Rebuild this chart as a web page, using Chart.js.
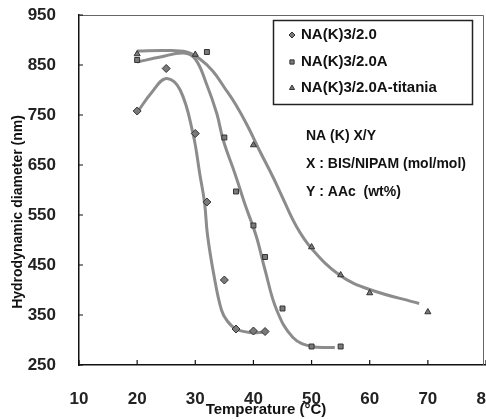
<!DOCTYPE html>
<html>
<head>
<meta charset="utf-8">
<script src="https://cdn.jsdelivr.net/npm/chart.js@4.4.1/dist/chart.umd.min.js"></script>
<style>
  html, body { margin: 0; padding: 0; background: #fff; overflow: hidden; }
  #wrap { width: 510px; height: 419px; }
</style>
</head>
<body>
<div id="wrap"><canvas id="chart" width="510" height="419"></canvas></div>
<script>
// measured points (temperature in C, diameter in nm)
const tempA = [20, 25, 30, 32, 35, 37, 40, 42];
const diamA = [758, 843, 713, 576, 420, 322, 318, 317];
const tempB = [20, 32, 35, 37, 40, 42, 45, 50, 55];
const diamB = [860, 876, 705, 597, 529, 466, 363, 287, 287];
const tempC = [20, 30, 40, 50, 55, 60, 70];
const diamC = [872, 871, 690, 486, 430, 394, 356];

// hand drawn trend curves
const fitTempA = [20, 22.5, 25, 27.4, 29.6, 30.8, 31.6, 32.1, 33.2, 34.5, 35.5, 37, 39.4, 42];
const fitDiamA = [755, 795, 823, 800, 713, 630, 574, 510, 430, 360, 338, 322, 315, 316];
const fitTempB = [20, 24, 28, 30, 31.9, 33.7, 34.8, 36.9, 38.5, 40.5, 42, 44, 46.8, 50, 54];
const fitDiamB = [856, 866, 874, 862, 813, 753, 700, 630, 573, 507, 440, 360, 305, 287, 285];
const fitTempC = [20, 25, 28.5, 30.8, 33, 35, 37, 39, 41, 43.4, 45, 47.4, 50, 54.8, 60, 68.5];
const fitDiamC = [878, 879, 876, 862, 838, 805, 770, 728, 680, 625, 585, 527, 483, 430, 401, 373];

const seriesNames = ['NA(K)3/2.0', 'NA(K)3/2.0A', 'NA(K)3/2.0A-titania'];
const pointStyles = ['rectRot', 'rect', 'triangle'];
const xTicks = [10, 20, 30, 40, 50, 60, 70, 80];
const yTicks = [250, 350, 450, 550, 650, 750, 850, 950];
const noteLines = ['NA (K) X/Y', 'X : BIS/NIPAM (mol/mol)', 'Y : AAc  (wt%)'];

const pairs = (xs, ys) => xs.map((x, i) => ({ x: x, y: ys[i] }));

const markerDs = (xs, ys, i) => ({
  type: 'scatter',
  label: seriesNames[i],
  data: pairs(xs, ys),
  pointStyle: pointStyles[i],
  pointRadius: i === 0 ? 4 : 3.5,
  backgroundColor: '#7a7a7a',
  borderColor: '#333',
  borderWidth: 1,
  order: 1
});

const curveDs = (xs, ys) => ({
  type: 'line',
  data: pairs(xs, ys),
  showLine: true,
  borderColor: '#8c8c8c',
  borderWidth: 3,
  pointRadius: 0,
  tension: 0.4,
  fill: false,
  order: 2
});

const boldTicks = { family: 'Liberation Sans', weight: 'bold', size: 17 };

// frame, inner ticks, legend box, notes and axis titles
const decor = {
  id: 'decor',
  afterDraw(chart) {
    const ctx = chart.ctx;
    const a = chart.chartArea;
    const xs = chart.scales.x, ys = chart.scales.y;
    ctx.save();
    ctx.strokeStyle = '#666';
    ctx.lineWidth = 1;
    ctx.beginPath();
    ctx.moveTo(a.left, a.top + 0.5);
    ctx.lineTo(a.right - 2.5, a.top + 0.5);
    ctx.lineTo(a.right - 2.5, a.bottom);
    ctx.stroke();

    ctx.strokeStyle = '#111';
    ctx.lineWidth = 1.2;
    ctx.beginPath();
    xTicks.forEach(v => {
      const px = xs.getPixelForValue(v);
      ctx.moveTo(px, a.bottom);
      ctx.lineTo(px, a.bottom - 5);
    });
    yTicks.forEach(v => {
      const py = ys.getPixelForValue(v);
      ctx.moveTo(a.left, py);
      ctx.lineTo(a.left + 4, py);
    });
    ctx.stroke();

    // legend
    ctx.strokeStyle = '#222';
    ctx.lineWidth = 1.5;
    ctx.strokeRect(273.5, 20.5, 199, 84);
    ctx.font = 'bold 15px "Liberation Sans", Arial, sans-serif';
    ctx.textBaseline = 'middle';
    ctx.textAlign = 'left';
    [35, 62, 88].forEach((y, i) => {
      ctx.fillStyle = '#7a7a7a';
      ctx.strokeStyle = '#333';
      ctx.lineWidth = 1;
      Chart.helpers.drawPoint(ctx, { pointStyle: pointStyles[i], radius: 3, rotation: 0, borderWidth: 1 }, 292, y);
      ctx.fillStyle = '#111';
      ctx.fillText(seriesNames[i], 301, y);
    });

    // notes
    ctx.font = 'bold 14px "Liberation Sans", Arial, sans-serif';
    [136, 164, 192].forEach((y, i) => {
      ctx.fillText(noteLines[i], 306, y);
    });

    // axis titles
    ctx.textAlign = 'center';
    ctx.font = 'bold 15px "Liberation Sans", Arial, sans-serif';
    ctx.fillText('Temperature (\u00b0C)', 266, 410);
    ctx.translate(18, 212);
    ctx.rotate(-Math.PI / 2);
    ctx.font = 'bold 14px "Liberation Sans", Arial, sans-serif';
    ctx.fillText('Hydrodynamic diameter (nm)', 0, 0);
    ctx.restore();
  }
};

new Chart(document.getElementById('chart'), {
  type: 'scatter',
  data: {
    datasets: [
      markerDs(tempA, diamA, 0),
      markerDs(tempB, diamB, 1),
      markerDs(tempC, diamC, 2),
      curveDs(fitTempA, fitDiamA),
      curveDs(fitTempB, fitDiamB),
      curveDs(fitTempC, fitDiamC)
    ]
  },
  options: {
    responsive: false,
    animation: false,
    layout: { padding: { left: 0, right: 24, top: 15, bottom: 0 } },
    plugins: {
      legend: { display: false },
      tooltip: { enabled: false }
    },
    scales: {
      x: {
        type: 'linear',
        min: 10,
        max: 80,
        afterFit: s => { s.height = 54; s.paddingLeft = 0; s.paddingRight = 0; },
        afterBuildTicks: s => { s.ticks = xTicks.map(v => ({ value: v })); },
        grid: { display: false },
        border: { display: true, color: '#111', width: 1.5 },
        ticks: { color: '#222', font: boldTicks, padding: 16, maxRotation: 0 }
      },
      y: {
        type: 'linear',
        min: 250,
        max: 950,
        afterFit: s => { s.width = 79; s.paddingTop = 0; s.paddingBottom = 0; },
        afterBuildTicks: s => { s.ticks = yTicks.map(v => ({ value: v })); },
        grid: { display: false },
        border: { display: true, color: '#111', width: 1.5 },
        ticks: { color: '#222', font: boldTicks, padding: 15 }
      }
    }
  },
  plugins: [decor]
});
</script>
</body>
</html>
